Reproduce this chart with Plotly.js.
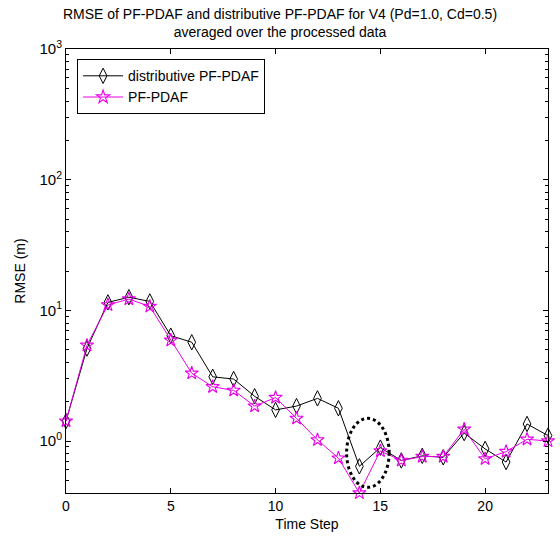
<!DOCTYPE html>
<html>
<head>
<meta charset="utf-8">
<script src="https://cdn.plot.ly/plotly-3.0.1.min.js"></script>
<style>html,body{margin:0;padding:0;background:#fff;}</style>
</head>
<body>
<div id="chart" style="width:560px;height:546px;"></div>
<script>
var timeSteps = [0,1,2,3,4,5,6,7,8,9,10,11,12,13,14,15,16,17,18,19,20,21,22,23];
var distributivePFPDAF = [1.42,5.1,11.5,12.6,11.7,6.4,5.7,3.1,2.98,2.2,1.73,1.85,2.12,1.78,0.64,0.89,0.71,0.77,0.75,1.15,0.87,0.69,1.35,1.1];
var pfPDAF = [1.42,5.4,11.0,12.2,10.7,5.9,3.3,2.6,2.44,1.85,2.15,1.49,1.02,0.74,0.40,0.84,0.71,0.76,0.76,1.23,0.73,0.83,1.03,1.0];
var yTickVals = [1,10,100,1000];
var yTickText = ['10<sup>0</sup>','10<sup>1</sup>','10<sup>2</sup>','10<sup>3</sup>'];
var seriesNames = ['distributive PF-PDAF','PF-PDAF'];

var FONT = 'Liberation Sans, Arial, sans-serif';
var Y_MIN = 0.4, Y_MAX = 1000;
function yPaper(v) {
  var a = Math.log10(Y_MIN), b = Math.log10(Y_MAX);
  return (Math.log10(v) - a) / (b - a);
}

var traces = [
  {
    x: timeSteps, y: distributivePFPDAF, name: seriesNames[0],
    type: 'scatter', mode: 'lines+markers', cliponaxis: false,
    line: {color: '#000000', width: 1},
    marker: {symbol: 'diamond-tall-open', size: 11, color: '#000000', line: {width: 1, color: '#000000'}}
  },
  {
    x: timeSteps, y: pfPDAF, name: seriesNames[1],
    type: 'scatter', mode: 'lines+markers', cliponaxis: false,
    line: {color: '#e800e8', width: 1},
    marker: {symbol: 'star-open', size: 10, color: '#e800e8', line: {width: 1.1, color: '#e800e8'}}
  }
];

var layout = {
  width: 560, height: 546,
  margin: {l: 66, r: 12, t: 49, b: 53},
  paper_bgcolor: '#ffffff', plot_bgcolor: '#ffffff',
  font: {family: FONT, size: 13, color: '#000000'},
  showlegend: true,
  title: {
    text: 'RMSE of PF-PDAF and distributive PF-PDAF for V4 (Pd=1.0, Cd=0.5)<br>averaged over the processed data',
    font: {family: FONT, size: 14, color: '#000000'},
    x: 0.5, xref: 'container', xanchor: 'center',
    y: 0.966, yref: 'container', yanchor: 'top'
  },
  xaxis: {
    range: [0, 23], tickmode: 'linear', tick0: 0, dtick: 5,
    ticks: 'inside', ticklen: 5, tickcolor: '#000', tickwidth: 1,
    showline: true, linecolor: '#000', linewidth: 1, mirror: 'allticks',
    showgrid: false, zeroline: false,
    tickfont: {family: FONT, size: 14},
    title: {text: 'Time Step', font: {family: FONT, size: 14}, standoff: 6}
  },
  yaxis: {
    type: 'log', range: [Math.log10(Y_MIN), Math.log10(Y_MAX)],
    tickmode: 'array', tickvals: yTickVals, ticktext: yTickText,
    ticks: 'inside', ticklen: 5, tickcolor: '#000', tickwidth: 1,
    minor: {ticks: 'inside', ticklen: 3, tickcolor: '#000', dtick: 'D1', showgrid: false},
    showline: true, linecolor: '#000', linewidth: 1, mirror: 'allticks',
    showgrid: false, zeroline: false,
    tickfont: {family: FONT, size: 15},
    title: {text: 'RMSE (m)', font: {family: FONT, size: 14}, standoff: 10}
  },
  legend: {
    x: 0.023, y: 0.977, xanchor: 'left', yanchor: 'top',
    bgcolor: '#ffffff', bordercolor: '#000000', borderwidth: 1,
    font: {family: FONT, size: 14}, itemwidth: 40, tracegroupgap: 0
  },
  shapes: [
    {
      type: 'circle', xref: 'x', yref: 'paper',
      x0: 13.39, x1: 15.42,
      y0: yPaper(0.442), y1: yPaper(1.49),
      line: {color: '#000000', width: 3, dash: 'dot'}
    }
  ]
};

Plotly.newPlot('chart', traces, layout, {displayModeBar: false, staticPlot: true});
</script>
</body>
</html>
